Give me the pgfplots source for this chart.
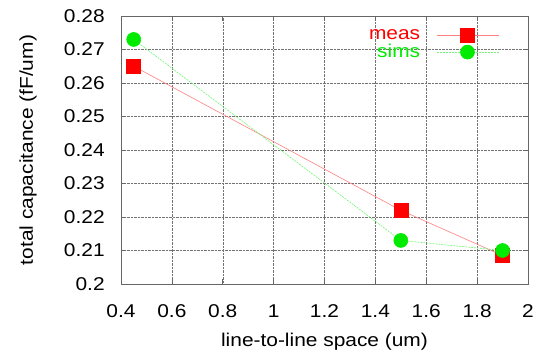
\documentclass[border=0pt]{standalone}
\usepackage{pgfplots}
\pgfplotsset{compat=1.18}
\usepackage{fontspec}
\setmainfont{Liberation Sans}[FakeStretch=1.13]
\definecolor{gpred}{RGB}{255,0,0}
\definecolor{gpgreen}{RGB}{0,235,0}
\begin{document}
\fontsize{18.5}{21}\selectfont
\begin{tikzpicture}
\useasboundingbox (0,0) rectangle (538pt,350pt);
\begin{axis}[
  at={(121pt,66pt)}, anchor=south west,
  scale only axis,
  width=407pt, height=268pt,
  xmin=0.4, xmax=2, ymin=0.2, ymax=0.28,
  xtick={0.4,0.6,...,2.01},
  ytick={0.2,0.21,...,0.281},
  /pgf/number format/assume math mode=true,
  /pgf/number format/fixed,
  /pgf/number format/precision=2,
  xticklabel style={/pgf/number format/precision=1, yshift=-14pt},
  yticklabel style={xshift=-10pt},
  tick label style={font=\fontsize{18.5}{21}\selectfont},
  label style={font=\fontsize{18.5}{21}\selectfont},
  xlabel={line-to-line space (um)},
  ylabel={total capacitance (fF/um)},
  xlabel style={at={(axis description cs:0.5,-0.215)}, anchor=center},
  ylabel style={at={(axis description cs:-0.2285,0.5)}, anchor=center, rotate=0},
  grid=major,
  major grid style={black!55, densely dotted, line width=0.5pt},
  axis line style={black!60, line width=0.8pt},
  tick style={black!60, line width=0.6pt},
  major tick length=5pt,
  tick align=inside,
  legend style={draw=none, fill=none, font=\fontsize{18.5}{19}\selectfont, at={(axis cs:1.886,0.2767)}, anchor=north east, row sep=-2pt, column sep=14pt, inner sep=0pt},
  legend plot pos=right,
  legend cell align=right,
  legend image code/.code={\draw[mark repeat=2,mark phase=2] plot coordinates {(0pt,0pt)(31pt,0pt)(62pt,0pt)};},
]
\addplot[color=gpred!50, line width=0.6pt, mark=square*, mark size=7pt, mark options={solid, fill=gpred, draw=gpred}]
  coordinates {(0.45,0.265) (1.5,0.222) (1.9,0.2085)};
\addlegendentry{\textcolor{gpred}{meas}}
\addplot[color=gpgreen!55, line width=0.6pt, dash pattern=on 2pt off 1pt, mark=*, mark size=7pt, mark options={solid, fill=gpgreen, draw=gpgreen}]
  coordinates {(0.45,0.273) (1.5,0.213) (1.9,0.210)};
\addlegendentry{\textcolor{gpgreen}{sims}}
\end{axis}
\end{tikzpicture}
\end{document}
